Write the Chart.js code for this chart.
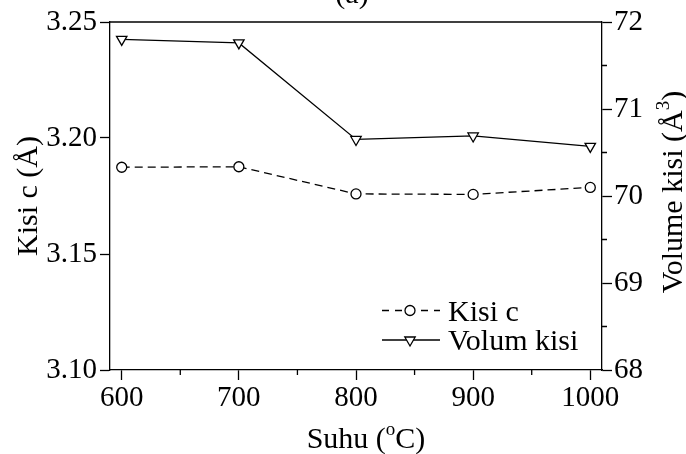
<!DOCTYPE html>
<html>
<head>
<meta charset="utf-8">
<script src="https://cdn.jsdelivr.net/npm/chart.js@4/dist/chart.umd.min.js"></script>
<style>
  html, body { margin: 0; padding: 0; background: #ffffff; }
  #wrap { width: 686px; height: 454px; }
</style>
</head>
<body>
<div id="wrap"><canvas id="c" width="686" height="454"></canvas></div>
<script>
// Annealing temperature (°C)
const suhu = [600, 700, 800, 900, 1000];
// Lattice parameter c (Å)
const kisiC = [3.1874, 3.1876, 3.1759, 3.1757, 3.1787];
// Cell volume (Å^3)
const volumKisi = [71.80, 71.76, 70.65, 70.69, 70.57];

// Tick values
const xTicks = [600, 700, 800, 900, 1000];
const xMinorTicks = [650, 750, 850, 950];
const leftTicks = [3.10, 3.15, 3.20, 3.25];
const rightTicks = [68, 69, 70, 71, 72];
const rightMinorTicks = [68.5, 69.5, 70.5, 71.5];

const FONT = '"Liberation Serif", "Times New Roman", serif';
const INK = '#000000';
const TITLE_SIZE = 30;

function rich(ctx, parts, size) {
  // measure a run of normal/superscript segments
  let w = 0;
  for (const p of parts) {
    ctx.font = (p.sup ? Math.round(size * 0.62) : size) + 'px ' + FONT;
    p.w = ctx.measureText(p.t).width;
    w += p.w;
  }
  return w;
}

function drawRich(ctx, parts, size, cx, baseY, rotate) {
  ctx.save();
  ctx.translate(cx, baseY);
  if (rotate) ctx.rotate(rotate);
  const total = rich(ctx, parts, size);
  let x = -total / 2;
  ctx.fillStyle = INK;
  ctx.textBaseline = 'alphabetic';
  ctx.textAlign = 'left';
  for (const p of parts) {
    ctx.font = (p.sup ? Math.round(size * 0.62) : size) + 'px ' + FONT;
    ctx.fillText(p.t, x, p.sup ? -size * 0.42 : 0);
    x += p.w;
  }
  ctx.restore();
}

const decorations = {
  id: 'decorations',
  afterDraw(chart) {
    const ctx = chart.ctx;
    const ca = chart.chartArea;
    const sx = chart.scales.x, sy2 = chart.scales.y2;
    ctx.save();
    ctx.strokeStyle = INK;
    ctx.lineWidth = 1.3;

    // top frame line
    ctx.beginPath();
    ctx.moveTo(ca.left, ca.top);
    ctx.lineTo(ca.right, ca.top);
    ctx.stroke();

    // minor ticks
    ctx.beginPath();
    for (const v of xMinorTicks) {
      const px = sx.getPixelForValue(v);
      ctx.moveTo(px, ca.bottom);
      ctx.lineTo(px, ca.bottom + 5);
    }
    for (const v of rightMinorTicks) {
      const py = sy2.getPixelForValue(v);
      ctx.moveTo(ca.right, py);
      ctx.lineTo(ca.right + 5, py);
    }
    ctx.stroke();

    // panel label
    ctx.font = TITLE_SIZE + 'px ' + FONT;
    ctx.fillStyle = INK;
    ctx.textAlign = 'center';
    ctx.textBaseline = 'alphabetic';
    ctx.fillText('(a)', (ca.left + ca.right) / 2 - 4, 3);

    // axis titles
    const midY = (ca.top + ca.bottom) / 2;
    drawRich(ctx, [{ t: 'Suhu (' }, { t: 'o', sup: true }, { t: 'C)' }], TITLE_SIZE,
      (ca.left + ca.right) / 2 + 10, 448, 0);
    drawRich(ctx, [{ t: 'Kisi c (Å)' }], TITLE_SIZE, 37, midY, -Math.PI / 2);
    drawRich(ctx, [{ t: 'Volume kisi (Å' }, { t: '3', sup: true }, { t: ')' }], TITLE_SIZE,
      682, midY - 4, -Math.PI / 2);

    // legend
    const items = [
      { label: 'Kisi c', dash: [7, 6], style: 'circle', r: 5 },
      { label: 'Volum kisi', dash: [], style: 'triangle', r: 6 }
    ];
    const x0 = ca.right - 220;
    items.forEach((it, i) => {
      const y = ca.bottom - 59.5 + i * 29.5;
      ctx.save();
      ctx.setLineDash(it.dash);
      ctx.beginPath();
      ctx.moveTo(x0, y);
      ctx.lineTo(x0 + 58, y);
      ctx.stroke();
      ctx.restore();
      ctx.fillStyle = '#ffffff';
      ctx.strokeStyle = INK;
      ctx.lineWidth = 1.3;
      Chart.helpers.drawPoint(ctx, {
        pointStyle: it.style, radius: it.r, rotation: it.style === 'triangle' ? 180 : 0,
        borderWidth: 1.3
      }, x0 + 28, y);
      ctx.fillStyle = INK;
      ctx.font = TITLE_SIZE + 'px ' + FONT;
      ctx.textAlign = 'left';
      ctx.textBaseline = 'alphabetic';
      ctx.fillText(it.label, x0 + 66, y + 10);
    });
    ctx.restore();
  }
};

const tickFont = { family: FONT, size: 29 };
const grid = { drawOnChartArea: false, tickLength: 10, tickColor: INK, tickWidth: 1.3 };
const border = { display: true, color: INK, width: 1.3 };

new Chart(document.getElementById('c'), {
  type: 'line',
  data: {
    datasets: [
      {
        label: 'Kisi c',
        data: suhu.map((x, i) => ({ x, y: kisiC[i] })),
        yAxisID: 'y',
        borderColor: INK,
        borderWidth: 1.3,
        borderDash: [8, 5],
        pointStyle: 'circle',
        pointRadius: 5,
        pointBorderWidth: 1.3,
        pointBackgroundColor: '#ffffff',
        pointBorderColor: INK,
        tension: 0
      },
      {
        label: 'Volum kisi',
        data: suhu.map((x, i) => ({ x, y: volumKisi[i] })),
        yAxisID: 'y2',
        borderColor: INK,
        borderWidth: 1.3,
        pointStyle: 'triangle',
        pointRotation: 180,
        pointRadius: 6,
        pointBorderWidth: 1.3,
        pointBackgroundColor: '#ffffff',
        pointBorderColor: INK,
        tension: 0
      }
    ]
  },
  options: {
    responsive: false,
    animation: false,
    devicePixelRatio: 1,
    layout: { padding: { top: 22, left: 0, right: 0, bottom: 0 } },
    plugins: { legend: { display: false }, tooltip: { enabled: false }, title: { display: false } },
    scales: {
      x: {
        type: 'linear', position: 'bottom', min: 590, max: 1010,
        afterBuildTicks: s => { s.ticks = xTicks.map(v => ({ value: v })); },
        afterFit: s => { s.height = 84; },
        ticks: { font: tickFont, color: INK, padding: 1, maxRotation: 0, autoSkip: false,
                 callback: v => String(v) },
        grid, border
      },
      y: {
        type: 'linear', position: 'left', min: 3.10, max: 3.25,
        afterBuildTicks: s => { s.ticks = leftTicks.map(v => ({ value: v })); },
        afterFit: s => { s.width = 110; },
        ticks: { font: tickFont, color: INK, padding: 3, callback: v => Number(v).toFixed(2) },
        grid, border
      },
      y2: {
        type: 'linear', position: 'right', min: 68, max: 72,
        afterBuildTicks: s => { s.ticks = rightTicks.map(v => ({ value: v })); },
        afterFit: s => { s.width = 84; },
        ticks: { font: tickFont, color: INK, padding: 2, callback: v => String(v) },
        grid, border
      }
    }
  },
  plugins: [decorations]
});
</script>
</body>
</html>
